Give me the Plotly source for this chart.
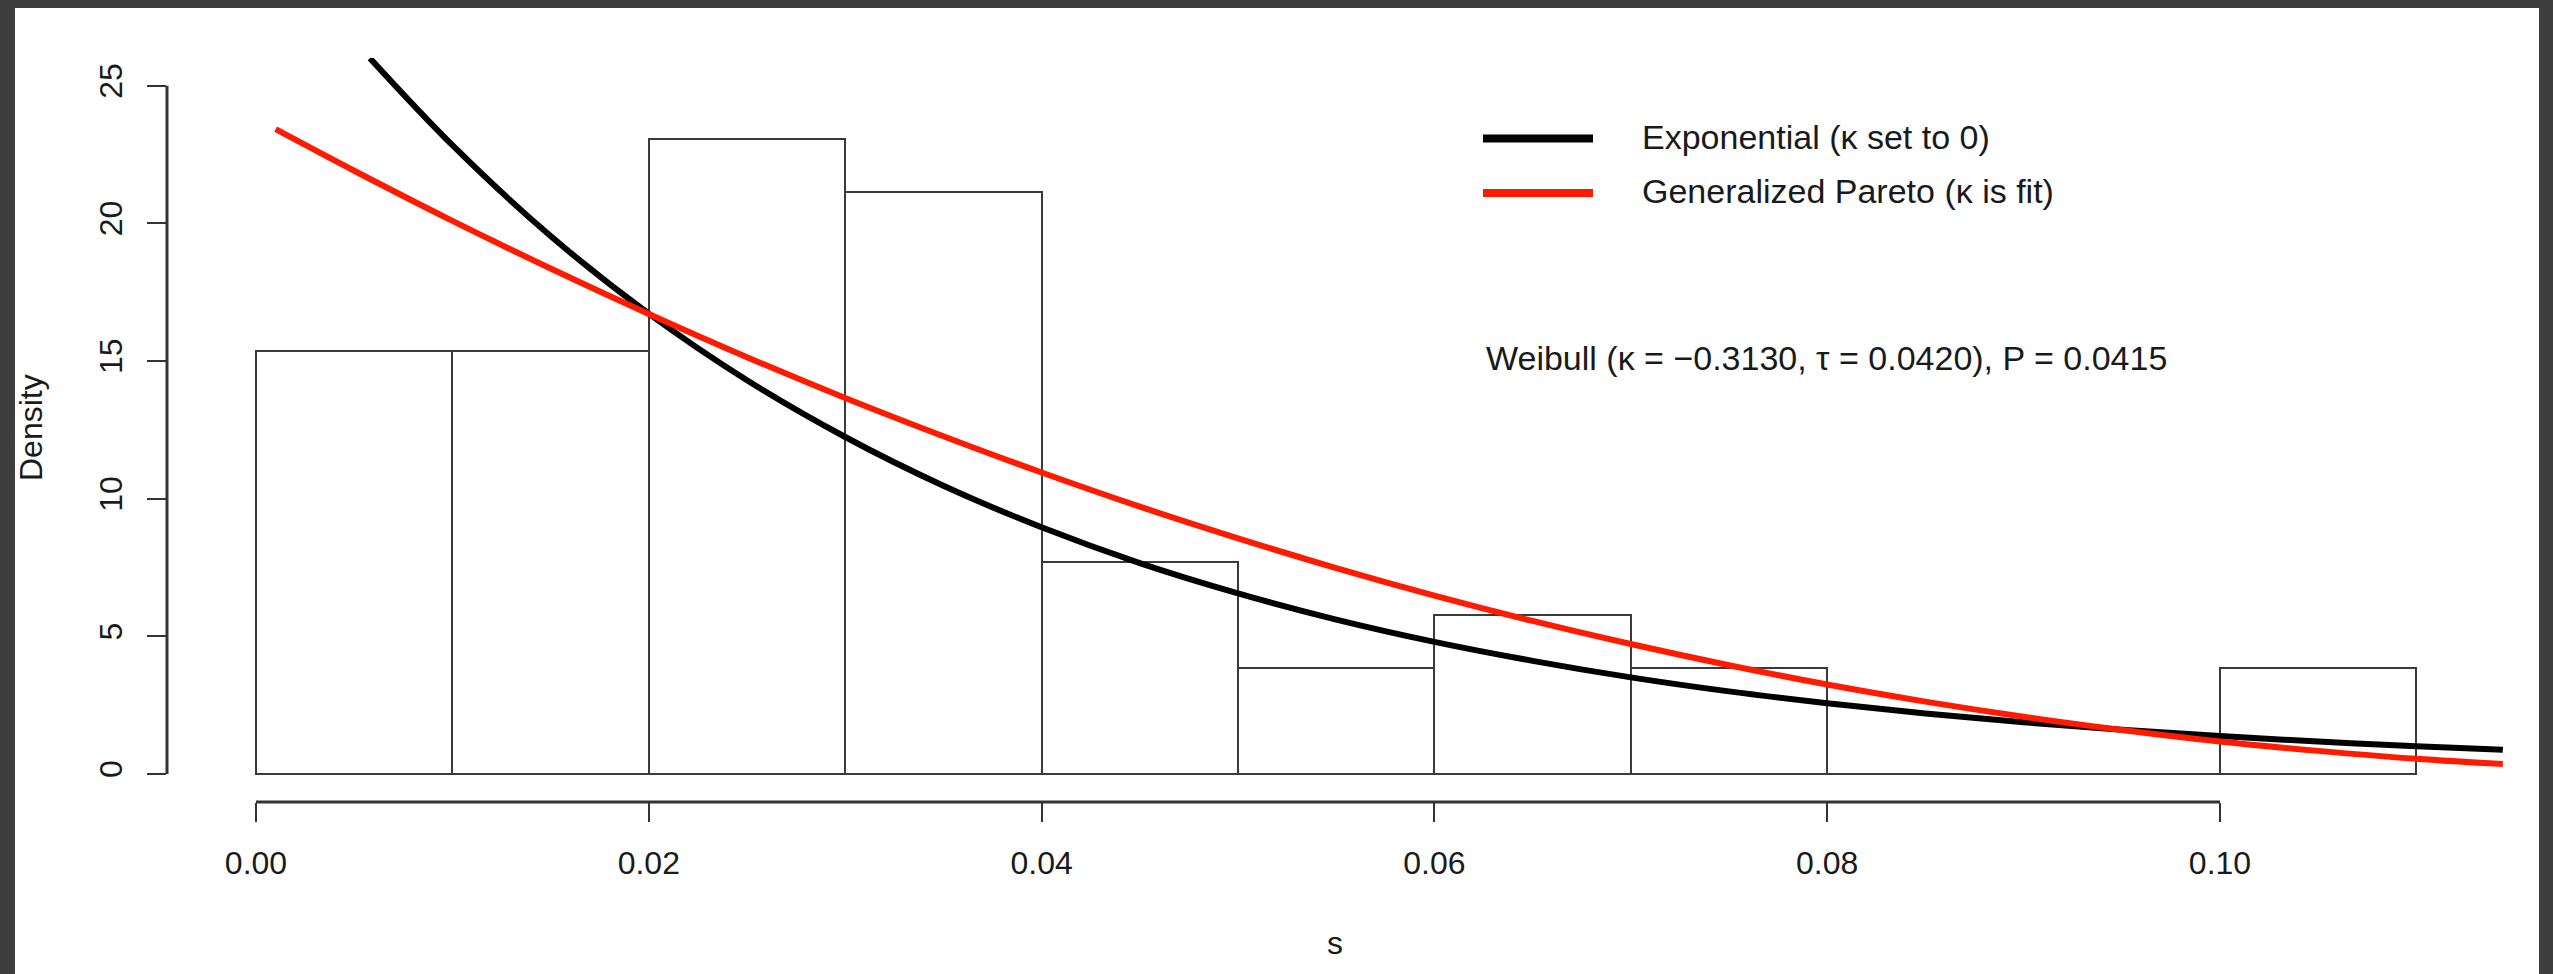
import plotly.graph_objects as go

# ---- data ----
bin_left = [0.00, 0.01, 0.02, 0.03, 0.04, 0.05, 0.06, 0.07, 0.08, 0.09, 0.10]
bin_width = 0.01
density = [15.38, 15.38, 23.08, 21.15, 7.69, 3.85, 5.77, 3.85, 0.0, 0.0, 3.85]

exp_s = [0.0058, 0.010, 0.015, 0.020, 0.025, 0.030, 0.035, 0.040, 0.045, 0.050,
         0.055, 0.060, 0.065, 0.070, 0.075, 0.080, 0.085, 0.090, 0.095, 0.100,
         0.105, 0.110, 0.1144]
exp_d = [26.0, 22.84, 19.54, 16.72, 14.30, 12.24, 10.47, 8.96, 7.66, 6.56,
         5.61, 4.80, 4.11, 3.51, 3.00, 2.57, 2.20, 1.88, 1.61, 1.38,
         1.18, 1.01, 0.88]

gpd_s = [0.001, 0.005, 0.010, 0.015, 0.020, 0.025, 0.030, 0.035, 0.040, 0.045,
         0.050, 0.055, 0.060, 0.065, 0.070, 0.075, 0.080, 0.085, 0.090, 0.095,
         0.100, 0.105, 0.110, 0.1144]
gpd_d = [23.42, 21.91, 20.09, 18.36, 16.71, 15.14, 13.66, 12.27, 10.95, 9.71,
         8.56, 7.48, 6.48, 5.56, 4.72, 3.95, 3.25, 2.63, 2.08, 1.60,
         1.18, 0.84, 0.55, 0.36]

x_ticks = [0.00, 0.02, 0.04, 0.06, 0.08, 0.10]
x_ticklabels = ["0.00", "0.02", "0.04", "0.06", "0.08", "0.10"]
y_ticks = [0, 5, 10, 15, 20, 25]
y_ticklabels = ["0", "5", "10", "15", "20", "25"]

legend_names = ["Exponential (\u03ba set to 0)", "Generalized Pareto (\u03ba is fit)"]
note_text = "Weibull (\u03ba = \u22120.3130, \u03c4 = 0.0420), P = 0.0415"

# ---- styling ----
FONT = "Liberation Sans, Arial, Helvetica, sans-serif"
TXT = "#1a1a1a"
AX = "#333333"
BLACK = "#000000"
RED = "#ff1a00"

L, R, T, B = 167, 50, 58, 172
W, H = 2553, 974
PW, PH = W - L - R, H - T - B


def px2x(px):
    return (px - L) / PW


def py2y(py):
    return (H - B - py) / PH


centers = [b + bin_width / 2 for b in bin_left]

fig = go.Figure()
fig.add_trace(go.Bar(
    x=centers, y=density, width=bin_width,
    marker=dict(color="white", line=dict(color="#3a3a3a", width=2)),
    showlegend=False, hoverinfo="skip"))
fig.add_trace(go.Scatter(
    x=exp_s, y=exp_d, mode="lines", name=legend_names[0],
    line=dict(color=BLACK, width=6, shape="spline"), showlegend=False))
fig.add_trace(go.Scatter(
    x=gpd_s, y=gpd_d, mode="lines", name=legend_names[1],
    line=dict(color=RED, width=6, shape="spline"), showlegend=False))

shapes = [
    # white page inside dark frame
    dict(type="rect", xref="paper", yref="paper", layer="below",
         x0=px2x(15), x1=px2x(2539), y0=py2y(980), y1=py2y(8),
         fillcolor="white", line=dict(width=0)),
    # histogram baseline
    dict(type="line", xref="x", yref="y", x0=bin_left[0],
         x1=bin_left[-1] + bin_width, y0=0, y1=0,
         line=dict(color="#3a3a3a", width=2)),
    # R-style axis lines spanning the tick range
    dict(type="line", xref="x", yref="paper", x0=x_ticks[0], x1=x_ticks[-1],
         y0=0, y1=0, line=dict(color=AX, width=3)),
    dict(type="line", xref="paper", yref="y", x0=0, x1=0,
         y0=y_ticks[0], y1=y_ticks[-1], line=dict(color=AX, width=3)),
    # legend samples
    dict(type="line", xref="paper", yref="paper", x0=px2x(1483), x1=px2x(1593),
         y0=py2y(138.5), y1=py2y(138.5), line=dict(color=BLACK, width=8)),
    dict(type="line", xref="paper", yref="paper", x0=px2x(1483), x1=px2x(1593),
         y0=py2y(193), y1=py2y(193), line=dict(color=RED, width=8)),
]

annotations = [
    dict(text=legend_names[0], xref="paper", yref="paper", x=px2x(1640),
         y=py2y(137), xanchor="left", yanchor="middle", showarrow=False,
         font=dict(size=34, color=TXT, family=FONT)),
    dict(text=legend_names[1], xref="paper", yref="paper", x=px2x(1640),
         y=py2y(191), xanchor="left", yanchor="middle", showarrow=False,
         font=dict(size=34, color=TXT, family=FONT)),
    dict(text=note_text, xref="paper", yref="paper", x=px2x(1484),
         y=py2y(358), xanchor="left", yanchor="middle", showarrow=False,
         font=dict(size=34, color=TXT, family=FONT)),
    dict(text="s", xref="paper", yref="paper", x=px2x(1335), y=py2y(943),
         xanchor="center", yanchor="middle", showarrow=False,
         font=dict(size=32, color=TXT, family=FONT)),
    dict(text="Density", xref="paper", yref="paper", x=px2x(31), y=py2y(428),
         xanchor="center", yanchor="middle", showarrow=False, textangle=-90,
         font=dict(size=32, color=TXT, family=FONT)),
]

fig.update_layout(
    width=W, height=H,
    margin=dict(l=L, r=R, t=T, b=B, pad=0),
    paper_bgcolor="#3e3e3e", plot_bgcolor="white",
    showlegend=False, bargap=0,
    font=dict(family=FONT, size=32, color=TXT),
    shapes=shapes, annotations=annotations,
    xaxis=dict(range=[(L - 256) / 19640, (W - R - 256) / 19640],
               showgrid=False, zeroline=False, showline=False,
               tickmode="array", tickvals=x_ticks, ticktext=x_ticklabels,
               ticks="outside", ticklen=19, tickwidth=2, tickcolor=AX,
               tickfont=dict(size=32, color=TXT, family=FONT),
               ticklabelstandoff=14),
    yaxis=dict(range=[(774 - (H - B)) / 27.532, (774 - T) / 27.532],
               showgrid=False, zeroline=False, showline=False,
               tickmode="array", tickvals=y_ticks, ticktext=y_ticklabels,
               ticks="outside", ticklen=19, tickwidth=2, tickcolor=AX,
               tickangle=-90,
               tickfont=dict(size=32, color=TXT, family=FONT),
               ticklabelstandoff=12),
)

fig.write_html("out.html")
